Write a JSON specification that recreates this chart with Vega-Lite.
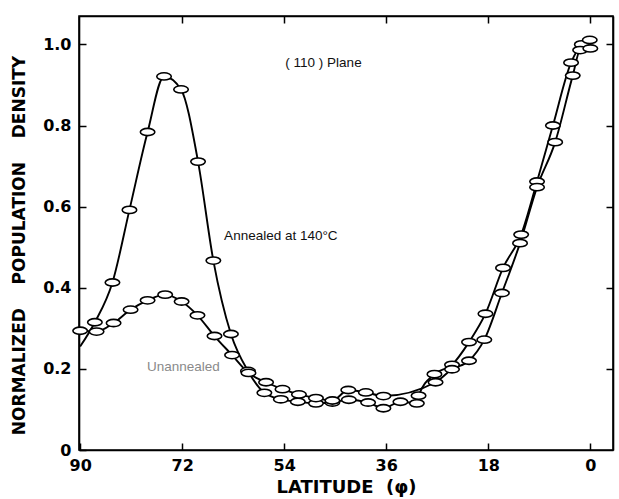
{
  "$schema": "https://vega.github.io/schema/vega-lite/v6.json",
  "width": 534,
  "height": 434,
  "autosize": "none",
  "padding": {"left": 79, "top": 16, "right": 6, "bottom": 49},
  "background": "white",
  "config": {"view": {"stroke": "black", "strokeWidth": 1.6}, "font": "DejaVu Sans"},
  "datasets": {
    "curves": [
      {"s": "Annealed", "lat": 90.0, "v": 0.255, "end": true},
      {"s": "Annealed", "lat": 87.4, "v": 0.315, "end": false},
      {"s": "Annealed", "lat": 84.3, "v": 0.413, "end": false},
      {"s": "Annealed", "lat": 81.3, "v": 0.592, "end": false},
      {"s": "Annealed", "lat": 78.1, "v": 0.784, "end": false},
      {"s": "Annealed", "lat": 75.2, "v": 0.921, "end": false},
      {"s": "Annealed", "lat": 72.2, "v": 0.889, "end": false},
      {"s": "Annealed", "lat": 69.2, "v": 0.711, "end": false},
      {"s": "Annealed", "lat": 66.5, "v": 0.467, "end": false},
      {"s": "Annealed", "lat": 63.4, "v": 0.286, "end": false},
      {"s": "Annealed", "lat": 60.4, "v": 0.195, "end": false},
      {"s": "Annealed", "lat": 57.5, "v": 0.141, "end": false},
      {"s": "Annealed", "lat": 54.6, "v": 0.125, "end": false},
      {"s": "Annealed", "lat": 51.6, "v": 0.119, "end": false},
      {"s": "Annealed", "lat": 48.4, "v": 0.115, "end": false},
      {"s": "Annealed", "lat": 45.5, "v": 0.117, "end": false},
      {"s": "Annealed", "lat": 42.6, "v": 0.124, "end": false},
      {"s": "Annealed", "lat": 39.2, "v": 0.117, "end": false},
      {"s": "Annealed", "lat": 36.5, "v": 0.103, "end": false},
      {"s": "Annealed", "lat": 33.5, "v": 0.119, "end": false},
      {"s": "Annealed", "lat": 30.6, "v": 0.115, "end": false},
      {"s": "Annealed", "lat": 30.3, "v": 0.134, "end": false},
      {"s": "Annealed", "lat": 27.5, "v": 0.187, "end": false},
      {"s": "Annealed", "lat": 24.4, "v": 0.21, "end": false},
      {"s": "Annealed", "lat": 21.4, "v": 0.266, "end": false},
      {"s": "Annealed", "lat": 18.5, "v": 0.336, "end": false},
      {"s": "Annealed", "lat": 15.4, "v": 0.449, "end": false},
      {"s": "Annealed", "lat": 12.2, "v": 0.531, "end": false},
      {"s": "Annealed", "lat": 9.4, "v": 0.662, "end": false},
      {"s": "Annealed", "lat": 6.6, "v": 0.8, "end": false},
      {"s": "Annealed", "lat": 3.4, "v": 0.955, "end": false},
      {"s": "Annealed", "lat": 1.5, "v": 1.0, "end": false},
      {"s": "Annealed", "lat": 0.1, "v": 1.011, "end": false},
      {"s": "Unannealed", "lat": 90.0, "v": 0.294, "end": false},
      {"s": "Unannealed", "lat": 87.1, "v": 0.292, "end": false},
      {"s": "Unannealed", "lat": 84.1, "v": 0.313, "end": false},
      {"s": "Unannealed", "lat": 81.1, "v": 0.346, "end": false},
      {"s": "Unannealed", "lat": 78.1, "v": 0.369, "end": false},
      {"s": "Unannealed", "lat": 75.0, "v": 0.383, "end": false},
      {"s": "Unannealed", "lat": 72.1, "v": 0.366, "end": false},
      {"s": "Unannealed", "lat": 69.3, "v": 0.332, "end": false},
      {"s": "Unannealed", "lat": 66.3, "v": 0.281, "end": false},
      {"s": "Unannealed", "lat": 63.2, "v": 0.234, "end": false},
      {"s": "Unannealed", "lat": 60.3, "v": 0.19, "end": false},
      {"s": "Unannealed", "lat": 57.2, "v": 0.167, "end": false},
      {"s": "Unannealed", "lat": 54.3, "v": 0.15, "end": false},
      {"s": "Unannealed", "lat": 51.4, "v": 0.137, "end": false},
      {"s": "Unannealed", "lat": 48.4, "v": 0.128, "end": false},
      {"s": "Unannealed", "lat": 45.5, "v": 0.122, "end": false},
      {"s": "Unannealed", "lat": 42.7, "v": 0.148, "end": false},
      {"s": "Unannealed", "lat": 39.6, "v": 0.142, "end": false},
      {"s": "Unannealed", "lat": 36.5, "v": 0.133, "end": false},
      {"s": "Unannealed", "lat": 27.3, "v": 0.167, "end": false},
      {"s": "Unannealed", "lat": 24.4, "v": 0.199, "end": false},
      {"s": "Unannealed", "lat": 21.4, "v": 0.22, "end": false},
      {"s": "Unannealed", "lat": 18.7, "v": 0.272, "end": false},
      {"s": "Unannealed", "lat": 15.6, "v": 0.387, "end": false},
      {"s": "Unannealed", "lat": 12.4, "v": 0.51, "end": false},
      {"s": "Unannealed", "lat": 9.4, "v": 0.648, "end": false},
      {"s": "Unannealed", "lat": 6.2, "v": 0.759, "end": false},
      {"s": "Unannealed", "lat": 3.1, "v": 0.923, "end": false},
      {"s": "Unannealed", "lat": 1.8, "v": 0.986, "end": false},
      {"s": "Unannealed", "lat": 0.0, "v": 0.99, "end": false}
    ],
    "notes": [
      {"t": "( 110 )  Plane", "lat": 53.8, "v": 0.955, "c": "dark"},
      {"t": "Annealed at 140°C", "lat": 64.6, "v": 0.527, "c": "dark"},
      {"t": "Unannealed", "lat": 78.2, "v": 0.205, "c": "light"}
    ]
  },
  "layer": [
    {
      "data": {"name": "curves"},
      "mark": {"type": "line", "interpolate": "monotone", "color": "black", "strokeWidth": 1.9, "clip": true},
      "encoding": {
        "x": {
          "field": "lat", "type": "quantitative",
          "scale": {"domain": [90.2, -4], "nice": false, "zero": false},
          "axis": {
            "orient": "bottom", "values": [90, 72, 54, 36, 18, 0], "grid": false,
            "tickSize": -7, "tickColor": "black", "tickWidth": 1.5, "domainColor": "black", "domainWidth": 1.6,
            "labelFont": "DejaVu Sans", "labelFontSize": 16, "labelFontWeight": "bold", "labelColor": "black", "labelPadding": 14, "labelFlush": false,
            "title": "LATITUDE\u00a0\u00a0(φ)", "titleFont": "DejaVu Sans", "titleFontSize": 18, "titleFontWeight": "bold", "titleColor": "black", "titlePadding": 5
          }
        },
        "y": {
          "field": "v", "type": "quantitative",
          "scale": {"domain": [0, 1.07], "nice": false},
          "axis": {
            "orient": "left", "values": [0, 0.2, 0.4, 0.6, 0.8, 1.0], "grid": false,
            "labelExpr": "datum.value == 0 ? '0' : format(datum.value, '.1f')",
            "tickSize": -7, "tickColor": "black", "tickWidth": 1.5, "domainColor": "black", "domainWidth": 1.6,
            "labelFont": "DejaVu Sans", "labelFontSize": 16, "labelFontWeight": "bold", "labelColor": "black", "labelPadding": 15, "labelFlush": false,
            "title": "NORMALIZED\u00a0\u00a0\u00a0\u00a0POPULATION\u00a0\u00a0\u00a0\u00a0DENSITY", "titleFont": "DejaVu Sans", "titleFontSize": 17, "titleFontWeight": "bold", "titleColor": "black", "titlePadding": 14, "titleY": 229
          }
        },
        "detail": {"field": "s"}
      }
    },
    {
      "data": {"name": "curves"},
      "transform": [{"filter": "!datum.end"}],
      "mark": {"type": "point", "shape": "M -1 0 A 1 0.5 0 1 1 1 0 A 1 0.5 0 1 1 -1 0 Z", "size": 210, "filled": true, "fill": "white", "stroke": "black", "strokeWidth": 1.6, "opacity": 1},
      "encoding": {
        "x": {"field": "lat", "type": "quantitative", "axis": null},
        "y": {"field": "v", "type": "quantitative", "axis": null}
      }
    },
    {
      "data": {"name": "notes"},
      "mark": {"type": "text", "align": "left", "baseline": "middle", "fontSize": 13.5, "font": "Liberation Sans", "fontWeight": "normal"},
      "encoding": {
        "x": {"field": "lat", "type": "quantitative", "axis": null},
        "y": {"field": "v", "type": "quantitative", "axis": null},
        "text": {"field": "t"},
        "color": {"field": "c", "type": "nominal", "scale": {"domain": ["dark", "light"], "range": ["#111111", "#8a8a8a"]}, "legend": null}
      }
    },
    {
      "data": {"name": "curves"},
      "mark": {"type": "point", "opacity": 0},
      "encoding": {
        "x": {"field": "lat", "type": "quantitative", "axis": {"orient": "top", "values": [72, 54, 36, 18, 0], "labels": false, "title": null, "grid": false, "tickSize": -7, "tickColor": "black", "tickWidth": 1.5, "domainColor": "black", "domainWidth": 1.6}},
        "y": {"field": "v", "type": "quantitative", "axis": {"orient": "right", "values": [0.2, 0.4, 0.6, 0.8, 1.0], "labels": false, "title": null, "grid": false, "tickSize": -7, "tickColor": "black", "tickWidth": 1.5, "domainColor": "black", "domainWidth": 1.6}}
      }
    }
  ],
  "resolve": {"axis": {"x": "independent", "y": "independent"}}
}
